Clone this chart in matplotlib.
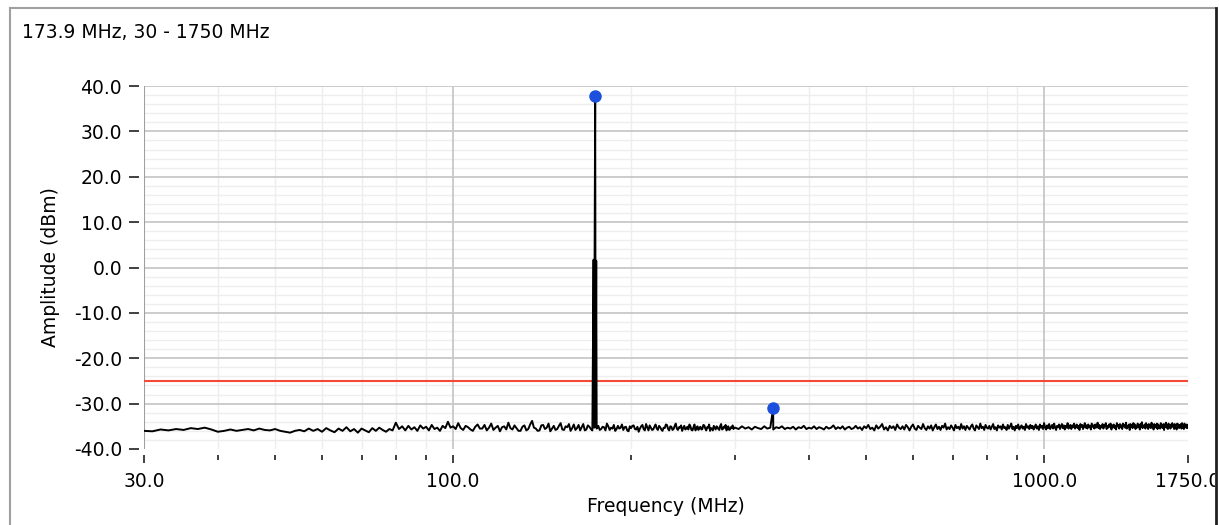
import matplotlib.pyplot as plt
import numpy as np
from matplotlib.lines import Line2D
from matplotlib.transforms import Bbox, TransformedBbox

plt.rcParams['font.family'] = ['DejaVu Sans']

title = "173.9 MHz, 30 - 1750 MHz"

# noise floor, 30..99 MHz in 1 MHz bins
lo_db = [-36.0, -36.1, -35.7, -35.9, -35.6, -35.8, -35.4, -35.6, -35.3, -35.7,
         -36.2, -36.0, -35.7, -36.0, -35.8, -35.6, -35.9, -35.5, -35.8, -35.9,
         -35.6, -36.0, -36.2, -36.4, -36.0, -35.8, -36.1, -35.5, -36.0, -35.6,
         -36.2, -35.4, -35.9, -36.3, -35.5, -36.0, -35.2, -36.1, -35.6, -36.4,
         -35.5, -35.9, -36.3, -35.4, -36.0, -35.3, -35.8, -36.2, -35.6, -35.9,
         -34.2, -35.6, -35.0, -35.9, -34.9, -35.7, -35.2, -36.0, -34.8, -35.5,
         -35.1, -35.9, -34.7, -35.6, -35.3, -36.0, -34.9, -35.4, -34.0, -35.3]

# 100..299 MHz in 1 MHz bins
mid_db = [-35.0, -35.6, -34.3, -35.4, -35.8, -34.9, -35.2, -35.7, -36.0, -35.1,
          -34.6, -35.5, -35.5, -34.7, -35.9, -35.3, -34.4, -35.8, -35.3, -34.9,
          -36.1, -35.2, -35.0, -35.7, -34.2, -35.4, -35.7, -34.8, -35.4, -36.0,
          -36.0, -35.1, -34.8, -35.9, -35.6, -34.6, -33.8, -35.3, -35.5, -36.0,
          -35.9, -34.8, -34.7, -35.6, -35.3, -34.4, -36.1, -35.5, -34.9, -35.8,
          -35.6, -34.9, -34.3, -35.7, -35.8, -35.0, -35.2, -34.5, -36.0, -35.4,
          -34.6, -35.8, -35.4, -34.7, -35.9, -35.2, -34.5, -35.9, -35.7, -34.8,
          -35.1, -35.6, -35.9, -35.3, -35.4, -34.6, -34.9, -35.8, -35.6, -35.1,
          -35.2, -35.9, -34.4, -35.0, -35.8, -35.3, -35.5, -34.7, -36.0, -35.6,
          -34.9, -35.5, -35.3, -34.6, -35.8, -35.2, -35.1, -35.9, -36.1, -35.0,
          -35.4, -34.9, -34.8, -35.6, -35.7, -35.1, -36.2, -35.5, -35.0, -34.7,
          -35.6, -35.9, -34.5, -35.2, -35.9, -34.8, -35.3, -35.8, -35.7, -35.1,
          -34.6, -35.5, -35.8, -34.9, -35.2, -35.7, -36.0, -35.3, -35.4, -34.6,
          -34.7, -35.6, -35.9, -35.0, -35.1, -35.8, -35.6, -34.9, -34.4, -35.5,
          -35.8, -35.2, -35.3, -34.8, -36.0, -35.4, -34.9, -35.7, -35.5, -35.1,
          -35.7, -34.6, -35.0, -35.8, -35.9, -35.2, -34.6, -35.9, -35.4, -35.0,
          -35.8, -35.3, -35.1, -35.7, -35.6, -34.7, -34.8, -35.5, -35.9, -35.2,
          -35.3, -34.6, -36.0, -35.4, -35.5, -35.9, -34.9, -35.3, -35.7, -35.0,
          -35.2, -35.6, -35.8, -34.9, -34.5, -35.7, -35.6, -35.1, -35.3, -34.7,
          -35.9, -35.5, -35.0, -35.8, -35.7, -35.2, -35.4, -34.8, -35.6, -35.3]

# 300..1750 MHz, ~4 MHz bins
hi_db = [-35.3, -35.6, -35.0, -35.5, -35.2, -35.7, -35.1, -35.4, -35.6, -35.0, -35.5, -35.3, -35.7, -35.2,
         -35.4, -35.0, -35.6, -35.3, -35.5, -35.1, -35.7, -35.2, -35.4, -34.9, -35.6, -35.3, -35.5, -35.0,
         -35.6, -35.2, -35.4, -35.7, -35.1, -35.5, -35.3, -34.8, -35.6, -35.2, -35.5, -35.0, -35.7, -35.3,
         -35.1, -35.6, -35.4, -34.9, -35.5, -35.2, -35.8, -35.0, -35.4, -34.7, -35.6, -35.3, -35.9, -34.8,
         -35.5, -35.1, -34.5, -35.7, -35.2, -35.9, -34.9, -35.4, -35.0, -35.8, -34.6, -35.3, -35.6, -35.0,
         -35.7, -34.7, -35.2, -35.9, -35.1, -34.6, -35.5, -35.8, -34.9, -35.3, -35.6, -34.5, -35.4, -35.8,
         -35.0, -35.5, -34.8, -35.9, -35.2, -34.6, -35.6, -35.1, -35.8, -34.9, -35.3, -34.4, -35.7, -35.2,
         -35.6, -34.8, -35.3, -35.9, -34.7, -35.4, -35.1, -35.7, -34.5, -35.5, -35.0, -35.8, -34.9, -35.3,
         -35.7, -35.0, -34.6, -35.5, -35.9, -34.8, -35.2, -35.6, -34.4, -35.4, -35.1, -35.8, -34.7, -35.3,
         -35.5, -34.9, -35.7, -35.1, -34.5, -35.6, -35.2, -35.9, -34.8, -35.3, -35.0, -35.7, -34.6, -35.4,
         -35.2, -35.8, -34.7, -35.5, -35.0, -34.4, -35.6, -35.1, -35.9, -34.9, -35.4, -34.6, -35.7, -35.2,
         -34.8, -35.5, -35.1, -35.8, -34.5, -35.3, -35.0, -35.6, -34.7, -35.4, -34.9, -35.7, -35.2, -34.6,
         -35.5, -35.0, -35.8, -34.6, -35.3, -34.9, -35.6, -34.3, -35.2, -35.7, -34.8, -35.4, -34.5, -35.6,
         -35.1, -34.7, -35.5, -34.4, -35.3, -35.8, -34.9, -35.2, -34.6, -35.6, -35.0, -34.5, -35.4, -34.8,
         -35.7, -34.9, -35.3, -34.3, -35.5, -35.0, -34.7, -35.6, -34.8, -35.2, -34.4, -35.5, -35.1, -34.6,
         -35.4, -34.9, -35.8, -34.5, -35.1, -34.7, -35.6, -35.0, -34.3, -35.3, -34.8, -35.5, -34.6, -35.2,
         -34.9, -35.7, -34.4, -35.1, -34.8, -35.5, -34.6, -35.3, -35.0, -34.2, -35.4, -34.7, -35.6, -34.9,
         -35.2, -34.5, -35.5, -34.8, -35.0, -34.3, -35.6, -34.9, -35.3, -34.6, -35.1, -34.4, -35.7, -34.8,
         -35.1, -34.6, -35.4, -34.9, -35.7, -34.3, -35.0, -34.7, -35.5, -34.5, -35.2, -34.8, -35.6, -34.4,
         -35.0, -34.7, -35.3, -34.2, -35.5, -34.9, -35.1, -34.6, -35.8, -34.5, -35.2, -34.8, -35.4, -34.3,
         -35.0, -34.6, -35.6, -34.9, -35.3, -34.4, -35.1, -34.8, -35.7, -34.5, -35.2, -34.1, -35.4, -34.9,
         -35.1, -34.6, -35.5, -34.3, -35.0, -34.8, -35.6, -34.5, -35.2, -34.7, -35.4, -34.2, -35.0, -34.9,
         -35.7, -34.5, -35.1, -34.8, -35.3, -34.4, -35.6, -34.6, -35.0, -34.9, -35.5, -34.3, -35.2, -34.7,
         -35.4, -34.5, -35.8, -34.6, -35.1, -34.2, -35.3, -34.9, -35.6, -34.4, -35.0, -34.8, -35.5, -34.6,
         -35.2, -34.3, -35.0, -34.7, -35.6, -34.5, -35.3, -34.9, -35.7, -34.4, -35.1, -34.6, -35.4, -34.8,
         -35.0, -34.5, -35.5, -34.3, -35.2, -34.9, -35.6, -34.4, -35.1, -34.7, -35.3, -34.6, -35.4, -34.8]

# carrier at 173.9 MHz with its neighbour bins
spike_f = [172.8, 173.2, 173.5, 173.9, 174.2, 174.6, 174.9]
spike_db = [1.7, -35.3, 1.6, 37.7, -35.2, 1.5, -35.5]
# 2nd harmonic
harm_f = [347.8]
harm_db = [-31.0]

# marker points
mark_f = [173.9, 347.8]
mark_db = [37.7, -31.0]

limit_db = -25.0

xticks = [30, 100, 1000, 1750]
xticklabels = ["30.0", "100.0", "1000.0", "1750.0"]
xminor = [40, 50, 60, 70, 80, 90, 200, 300, 400, 500, 600, 700, 800, 900]
yticks = [-40, -30, -20, -10, 0, 10, 20, 30, 40]

# sweep bins
f_lo = np.linspace(30, 99, len(lo_db))
f_mid = np.linspace(100, 299, len(mid_db))
f_hi = np.linspace(300, 1750, len(hi_db))

f_grid = np.concatenate([f_lo, f_mid, f_hi])
l_grid = np.concatenate([lo_db, mid_db, hi_db])
keep = np.abs(f_grid - 173.9) >= 1.5
freq = np.concatenate([f_grid[keep], spike_f, harm_f])
level = np.concatenate([l_grid[keep], spike_db, harm_db])
order = np.argsort(freq, kind='stable')
freq, level = freq[order], level[order]

W, H = 1219, 525
fig = plt.figure(figsize=(W / 100, H / 100), dpi=100)
ax = fig.add_axes([144 / W, 1 - 449 / H, (1188 - 144) / W, (449 - 86) / H])

ax.set_xscale('log')
ax.set_xlim(30, 1750)
ax.set_ylim(-40, 40)

# grid
for y in np.arange(-38, 40, 2):
    if y % 10:
        ax.axhline(y, color='#eeeeee', lw=1.0, zorder=0)
for x in xminor:
    ax.axvline(x, color='#eeeeee', lw=1.0, zorder=0)
for y in yticks[1:]:
    ax.axhline(y, color='#c8c8c8', lw=1.3, zorder=0.5)
for x in [100, 1000]:
    ax.axvline(x, color='#c8c8c8', lw=1.3, zorder=0.5)
ax.axvline(30, color='#a0a0a0', lw=1.5, zorder=0.6)

ax.axhline(limit_db, color='#f24a36', lw=1.5, zorder=2)
ax.plot(freq, level, color='black', lw=1.4, zorder=3)
ax.plot(mark_f, mark_db, 'o', color='#1c50dc', ms=8, zorder=5)

for s in ax.spines.values():
    s.set_visible(False)
ax.spines['left'].set_position(('outward', 3.6))
ax.spines['bottom'].set_position(('outward', 4.3))

ax.set_yticks(yticks)
ax.set_yticklabels(["%.1f" % v for v in yticks])
ax.set_xticks(xticks)
ax.set_xticklabels(xticklabels)
ax.set_xticks(xminor, minor=True)
ax.set_xticklabels([], minor=True)
ax.tick_params(axis='y', which='major', length=7.2, width=1.2, color='#202020',
               pad=5, labelsize=13.5)
ax.tick_params(axis='x', which='major', length=5.8, width=1.2, color='#202020',
               pad=6.5, labelsize=13.5)
ax.tick_params(axis='x', which='minor', length=3.6, width=1.2, color='#202020')

ax.set_xlabel("Frequency (MHz)", fontsize=13.5, labelpad=4)
ax.set_ylabel("Amplitude (dBm)", fontsize=13.5, labelpad=10)

fig.text(22 / W, 1 - 32 / H, title, fontsize=13.5, va='center', ha='left')

# outer frame
clip = TransformedBbox(Bbox([[0, 0], [1215 / W, 1]]), fig.transFigure)
for lab in ax.get_xticklabels():
    lab.set_clip_box(clip)
    lab.set_clip_on(True)
fig.add_artist(Line2D([10 / W, 10 / W], [0, 1 - 8 / H], color='#a0a0a0', lw=1.5))
fig.add_artist(Line2D([10 / W, 1215 / W], [1 - 8 / H, 1 - 8 / H], color='#a0a0a0', lw=1.5))
fig.add_artist(Line2D([1216 / W, 1216 / W], [0, 1 - 8 / H], color='#202020', lw=2))

fig.savefig("out.png", dpi=100)
